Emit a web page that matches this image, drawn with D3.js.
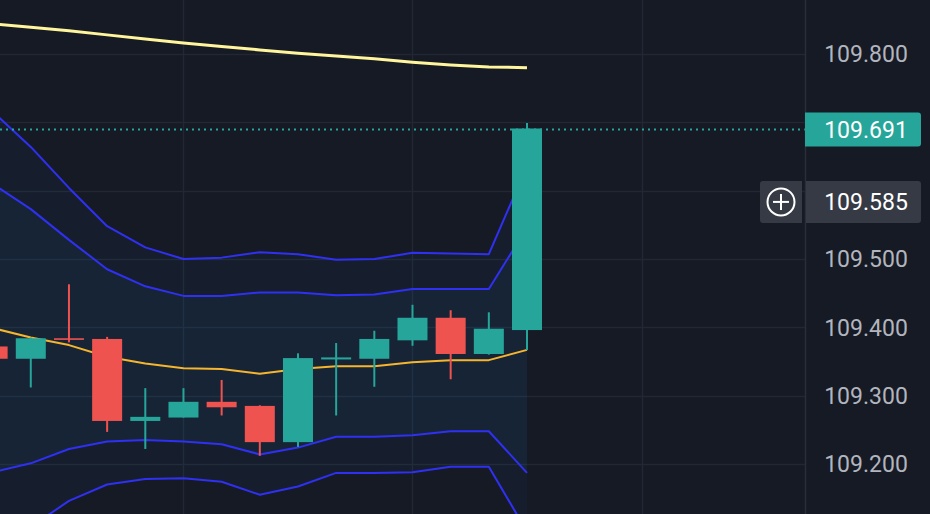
<!DOCTYPE html>
<html><head><meta charset="utf-8">
<script src="https://cdn.jsdelivr.net/npm/d3@7"></script>
<style>html,body{margin:0;padding:0;background:#161a25;overflow:hidden;} svg{display:block;}</style>
</head><body><div id="chart"></div>
<script>
// ---- data ----
const barIndex = [0,1,2,3,4,5,6,7,8,9,10,11,12,13,14];
const opens  = [109.372,109.354,109.384,109.383,109.263,109.268,109.291,109.285,109.232,109.353,109.354,109.381,109.414,109.361,109.396];
const highs  = [109.380,109.385,109.463,109.386,109.311,109.311,109.323,109.286,109.362,109.377,109.395,109.433,109.425,109.422,109.699];
const lows   = [109.345,109.312,109.378,109.247,109.222,109.268,109.271,109.212,109.225,109.271,109.313,109.373,109.324,109.360,109.367];
const closes = [109.354,109.384,109.382,109.263,109.269,109.291,109.283,109.232,109.355,109.356,109.383,109.414,109.361,109.398,109.691];

const lineIndex  = [-1,0,1,2,3,4,5,6,7,8,9,10,11,12,13,14];
const basis      = [109.413,109.399,109.385,109.374,109.357,109.347,109.340,109.339,109.332,109.339,109.343,109.343,109.349,109.352,109.352,109.367];
const upperOuter = [109.770,109.716,109.664,109.604,109.548,109.517,109.500,109.502,109.510,109.507,109.499,109.500,109.509,109.508,109.507,109.636];
const upperInner = [109.651,109.610,109.573,109.528,109.485,109.460,109.446,109.446,109.451,109.451,109.447,109.448,109.456,109.456,109.456,109.546];
const lowerInner = [109.175,109.188,109.201,109.222,109.233,109.235,109.233,109.229,109.214,109.224,109.240,109.240,109.242,109.248,109.248,109.187];
const lowerOuter = [109.056,109.082,109.108,109.146,109.170,109.178,109.179,109.174,109.155,109.167,109.187,109.187,109.188,109.196,109.196,109.101];
const longMa     = [109.851,109.844,109.839,109.834,109.828,109.822,109.816,109.811,109.806,109.801,109.797,109.793,109.788,109.784,109.781,109.780];

const gridPrices = [109.1,109.2,109.3,109.4,109.5,109.6,109.7,109.8];
const tickLabels = ["109.200","109.300","109.400","109.500","109.800"];
const tickValues = [109.2,109.3,109.4,109.5,109.8];
const gridBars   = [5,11,17];
const lastPrice = 109.691, lastLabel = "109.691";
const crossPrice = 109.585, crossLabel = "109.585";

// ---- layout ----
const W = 930, H = 514, plotRight = 805;
const svg = d3.select("#chart").append("svg").attr("width", W).attr("height", H);
svg.append("rect").attr("width", W).attr("height", H).attr("fill", "#161a25");

const y = d3.scaleLinear().domain([109.2, 109.8]).range([464, 54]);
const x = d3.scaleLinear().domain([-1, 14]).range([527 - 15*38.17, 527]);

svg.append("defs").append("clipPath").attr("id","plot")
  .append("rect").attr("x",0).attr("y",0).attr("width",plotRight).attr("height",H);
const g = svg.append("g").attr("clip-path","url(#plot)");

// grid
g.selectAll("line.hg").data(gridPrices).join("line").attr("class","hg")
  .attr("x1",0).attr("x2",plotRight).attr("y1",d=>Math.round(y(d))+0.5).attr("y2",d=>Math.round(y(d))+0.5)
  .attr("stroke","#232733").attr("stroke-width",1.5);
g.selectAll("line.vg").data(gridBars).join("line").attr("class","vg")
  .attr("y1",0).attr("y2",H).attr("x1",d=>Math.round(x(d))+0.5).attr("x2",d=>Math.round(x(d))+0.5)
  .attr("stroke","#232733").attr("stroke-width",1.5);

// band fills
const outerArea = d3.area().x((d,i)=>x(lineIndex[i])).y0((d,i)=>y(lowerOuter[i])).y1((d,i)=>y(upperOuter[i]));
const innerArea = d3.area().x((d,i)=>x(lineIndex[i])).y0((d,i)=>y(lowerInner[i])).y1((d,i)=>y(upperInner[i]));
g.append("path").datum(lineIndex).attr("d", outerArea).attr("fill","rgba(33,150,243,0.045)");
g.append("path").datum(lineIndex).attr("d", innerArea).attr("fill","rgba(33,150,243,0.05)");

function drawLine(vals, color, width){
  const ln = d3.line().x((d,i)=>x(lineIndex[i])).y(d=>y(d));
  g.append("path").datum(vals).attr("d", ln).attr("fill","none")
    .attr("stroke",color).attr("stroke-width",width).attr("stroke-linejoin","round");
}
drawLine(longMa, "#fff59d", 3);
drawLine(upperOuter, "#2f30f2", 2);
drawLine(upperInner, "#2f30f2", 2);
drawLine(lowerInner, "#2f30f2", 2);
drawLine(lowerOuter, "#2f30f2", 2);
drawLine(basis, "#f5b52e", 2);

// candles
const up = "#26a69a", down = "#ef5350";
const bw = 30;
const cg = g.selectAll("g.c").data(barIndex).join("g").attr("class","c");
cg.append("line")
  .attr("x1",i=>x(i)).attr("x2",i=>x(i))
  .attr("y1",i=>y(highs[i])).attr("y2",i=>y(lows[i]))
  .attr("stroke",i=>closes[i]>=opens[i]?up:down).attr("stroke-width",2);
cg.append("rect")
  .attr("x",i=>x(i)-bw/2).attr("width",bw)
  .attr("y",i=>y(Math.max(opens[i],closes[i])))
  .attr("height",i=>Math.max(1.6, Math.abs(y(opens[i])-y(closes[i]))))
  .attr("fill",i=>closes[i]>=opens[i]?up:down);

// last price dotted line
g.append("line").attr("x1",0).attr("x2",plotRight).attr("y1",y(lastPrice)+1).attr("y2",y(lastPrice)+1)
  .attr("stroke",up).attr("stroke-width",2).attr("stroke-dasharray","2,4");

// axis separator
svg.append("line").attr("x1",plotRight+0.5).attr("x2",plotRight+0.5).attr("y1",0).attr("y2",H)
  .attr("stroke","#2a2e39").attr("stroke-width",1.5);

// tick labels
const font = "Roboto, 'Noto Sans', sans-serif";
svg.selectAll("text.tick").data(tickValues).join("text").attr("class","tick")
  .attr("x",866).attr("y",d=>y(d)).attr("dy","0.36em").attr("text-anchor","middle")
  .attr("font-family",font).attr("font-size",23).attr("fill","#b2b5be")
  .text((d,i)=>tickLabels[i]);

// last price label
const ly = y(lastPrice)+1;
svg.append("path").attr("d", `M805,${ly-17} H918 a3,3 0 0 1 3,3 V${ly+14} a3,3 0 0 1 -3,3 H805 Z`).attr("fill",up);
svg.append("text").attr("x",866).attr("y",ly).attr("dy","0.36em").attr("text-anchor","middle")
  .attr("font-family",font).attr("font-size",23).attr("fill","#ffffff").text(lastLabel);

// crosshair label
const cy = y(crossPrice)+1;
svg.append("path").attr("d", `M806,${cy-21} H918 a3,3 0 0 1 3,3 V${cy+18} a3,3 0 0 1 -3,3 H806 Z`).attr("fill","#363a45");
svg.append("text").attr("x",866).attr("y",cy).attr("dy","0.36em").attr("text-anchor","middle")
  .attr("font-family",font).attr("font-size",23).attr("fill","#ffffff").text(crossLabel);
// plus button
svg.append("path").attr("d", `M763,${cy-21} H802 V${cy+21} H763 a3,3 0 0 1 -3,-3 V${cy-18} a3,3 0 0 1 3,-3 Z`).attr("fill","#363a45");
svg.append("circle").attr("cx",781).attr("cy",cy).attr("r",13.5).attr("fill","none").attr("stroke","#ffffff").attr("stroke-width",2);
svg.append("line").attr("x1",773).attr("x2",789).attr("y1",cy).attr("y2",cy).attr("stroke","#fff").attr("stroke-width",2);
svg.append("line").attr("x1",781).attr("x2",781).attr("y1",cy-8).attr("y2",cy+8).attr("stroke","#fff").attr("stroke-width",2);
</script></body></html>
